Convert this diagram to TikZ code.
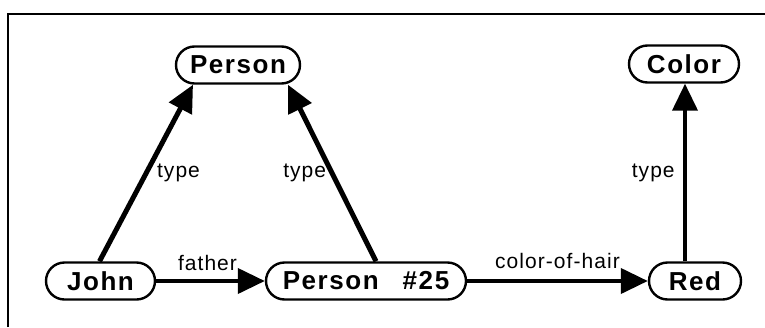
\documentclass[tikz,border=0pt]{standalone}
\usepackage{fontspec}
\setmainfont{Liberation Sans}
\newfontfamily\boxfont[LetterSpace=6]{Liberation Sans}
\newfontfamily\linkfont[LetterSpace=5]{Liberation Sans}
\usetikzlibrary{arrows.meta,shapes.misc}

\begin{document}
\begin{tikzpicture}[x=1pt,y=-1pt,
  concept/.style={draw, rounded rectangle, line width=2.4pt, minimum height=37pt,
    inner xsep=0pt, font=\boxfont\bfseries\fontsize{26}{30}\selectfont},
  link/.style={line width=#1, -{Triangle[length=27pt,width=25pt]}},
  link/.default=4pt,
  rel/.style={font=\linkfont\fontsize{21}{24}\selectfont}]

\useasboundingbox (0,0) rectangle (765,327);

% frame, only top and left edge show
\draw [line width=2.4pt] (8,327) -- (8,14) -- (765,14);

\node [concept, minimum width=124pt] (person) at (238,65) {Person};
\node [concept, minimum width=110pt] (color) at (684,64) {Color};

\node [concept, minimum width=109pt] (john) at (100.5,281) {John};
\node [concept, minimum width=200pt] (p25) at (366,281) {Person\hspace{24pt}\#25};
\node [concept, minimum width=92pt] (red) at (695,281) {Red};

\draw [link=5pt] ([xshift=-1pt]john.north) -- ([xshift=-45pt]person.south) node [rel, pos=.5, right=5pt] {type};
\draw [link=5pt] ([xshift=10pt]p25.north) -- ([xshift=50pt]person.south) node [rel, pos=.5, left=0pt] {type};
\draw [link] ([xshift=-10pt]red.north) -- ([xshift=1pt]color.south) node [rel, pos=.5, left=5pt] {type};

\draw [link] (john.east) -- (p25.west) node [rel, midway, xshift=-3pt, above=5pt] {father};
\draw [link] (p25.east) -- (red.west) node [rel, midway, above=7pt] {color-of-hair};
\end{tikzpicture}
\end{document}
